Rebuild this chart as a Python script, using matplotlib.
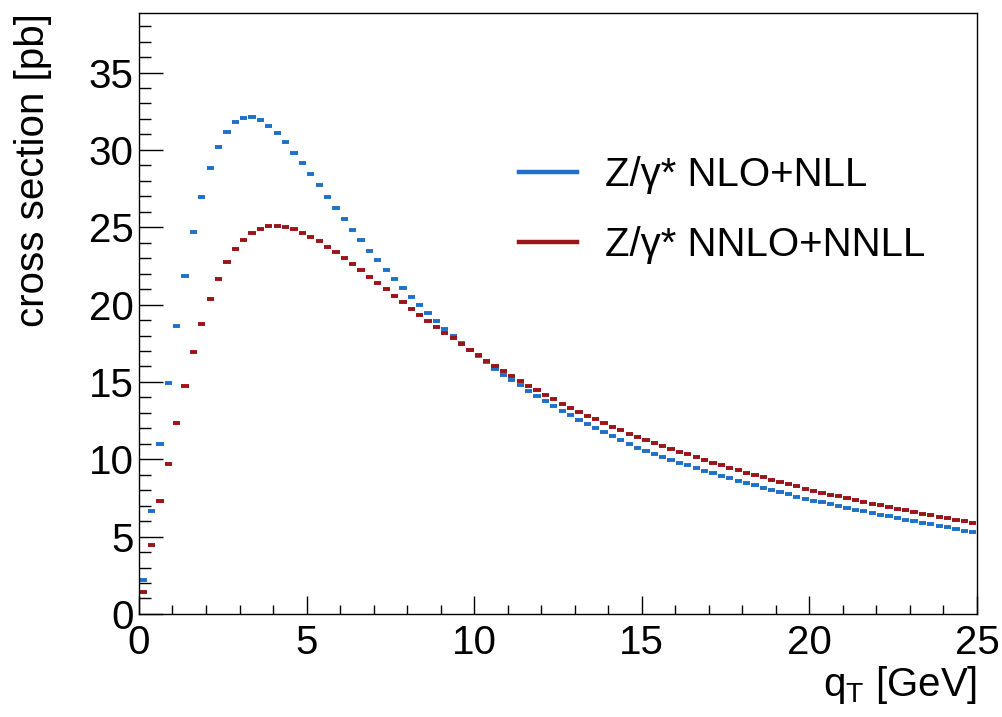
import numpy as np
import matplotlib
matplotlib.use("Agg")
from matplotlib import pyplot as plt
from matplotlib.lines import Line2D

plt.rcParams['font.family'] = ['Liberation Sans', 'DejaVu Sans']
plt.rcParams['mathtext.fontset'] = 'custom'
plt.rcParams['mathtext.rm'] = 'Liberation Sans'
plt.rcParams['mathtext.it'] = 'Liberation Sans'

# qT bins: 100 bins of 0.25 GeV from 0 to 25
bin_width = 0.25
qt_edges = np.arange(0, 25 + bin_width / 2, bin_width)
qt_centers = 0.5 * (qt_edges[:-1] + qt_edges[1:])

# Z/gamma* NLO+NLL (blue)
nlo_nll = [
    2.20, 6.68, 11.00, 14.95, 18.60, 21.87, 24.67, 26.98, 28.80, 30.20,
    31.18, 31.78, 32.08, 32.13, 31.93, 31.56, 31.07, 30.49, 29.82, 29.13,
    28.44, 27.71, 26.98, 26.24, 25.53, 24.84, 24.16, 23.49, 22.86, 22.24,
    21.63, 21.05, 20.49, 19.95, 19.44, 18.92, 18.44, 17.97, 17.50, 17.07,
    16.68, 16.29, 15.86, 15.47, 15.13, 14.78, 14.44, 14.09, 13.75, 13.45,
    13.14, 12.84, 12.56, 12.28, 12.00, 11.75, 11.49, 11.23, 10.99, 10.75,
    10.55, 10.35, 10.16, 9.97, 9.79, 9.61, 9.44, 9.27, 9.10, 8.94,
    8.78, 8.62, 8.47, 8.32, 8.17, 8.02, 7.87, 7.73, 7.59, 7.46,
    7.33, 7.21, 7.09, 6.97, 6.86, 6.75, 6.64, 6.53, 6.42, 6.31,
    6.20, 6.09, 5.99, 5.89, 5.79, 5.69, 5.59, 5.49, 5.39, 5.29,
]

# Z/gamma* NNLO+NNLL (red)
nnlo_nnll = [
    1.44, 4.46, 7.33, 9.70, 12.35, 14.76, 16.92, 18.77, 20.36, 21.65,
    22.73, 23.57, 24.18, 24.61, 24.91, 25.06, 25.10, 25.02, 24.87, 24.65,
    24.39, 24.10, 23.74, 23.38, 22.99, 22.62, 22.22, 21.80, 21.40, 20.99,
    20.55, 20.15, 19.74, 19.33, 18.94, 18.55, 18.18, 17.82, 17.45, 17.09,
    16.72, 16.36, 16.03, 15.69, 15.37, 15.06, 14.76, 14.46, 14.17, 13.88,
    13.60, 13.34, 13.08, 12.82, 12.58, 12.35, 12.11, 11.88, 11.66, 11.44,
    11.23, 11.04, 10.85, 10.67, 10.49, 10.31, 10.13, 9.96, 9.79, 9.62,
    9.46, 9.30, 9.14, 8.98, 8.83, 8.68, 8.53, 8.39, 8.25, 8.11,
    7.97, 7.84, 7.72, 7.60, 7.48, 7.36, 7.24, 7.13, 7.02, 6.91,
    6.80, 6.69, 6.58, 6.48, 6.38, 6.28, 6.18, 6.08, 5.98, 5.88,
]

labels = ["Z/γ* NLO+NLL", "Z/γ* NNLO+NNLL"]
colors = ["#1f70c8", "#9a1518"]
fs = 29

fig = plt.figure(figsize=(10.02, 7.17), dpi=100)
ax = fig.add_axes([0.1387, 0.1437, 0.8363, 0.8382])

# each bin drawn as a short horizontal dash
half = 0.108
for vals, c in zip([nlo_nll, nnlo_nnll], colors):
    ax.hlines(vals, qt_centers - half, qt_centers + half, colors=c, lw=2.8)

ax.set_xlim(0, 25)
ax.set_ylim(0, 38.85)
ax.set_xticks(np.arange(0, 26, 5))
ax.set_xticks(np.arange(0, 26, 1), minor=True)
ax.set_yticks(np.arange(0, 36, 5))
ax.set_yticks(np.arange(0, 39, 1), minor=True)

ax.tick_params(axis='both', which='both', direction='in', labelsize=fs,
               width=1.0, colors='black')
ax.tick_params(axis='x', which='major', length=13, pad=7)
ax.tick_params(axis='x', which='minor', length=6.5)
ax.tick_params(axis='y', which='major', length=17, pad=4)
ax.tick_params(axis='y', which='minor', length=8.5)
for s in ax.spines.values():
    s.set_linewidth(1.0)

ax.set_xlabel("q$_\\mathregular{T}$ [GeV]", fontsize=fs, loc='right', labelpad=2)
ax.set_ylabel("cross section [pb]", fontsize=fs, loc='top', labelpad=26)

handles = [Line2D([], [], color=c, lw=3.2) for c in colors]
ax.legend(handles, labels, loc='center left', bbox_to_anchor=(0.429, 0.672),
          frameon=False, fontsize=fs, handlelength=1.45, handletextpad=0.7,
          labelspacing=0.8, borderpad=0)

fig.savefig("out.png", dpi=100)
